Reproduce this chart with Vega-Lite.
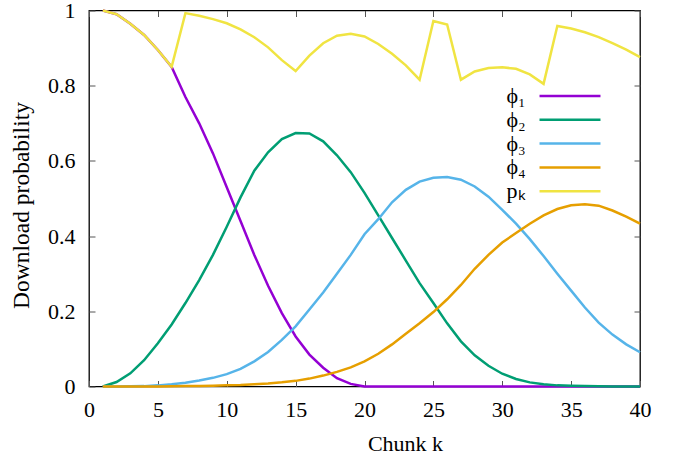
{
  "$schema": "https://vega.github.io/schema/vega-lite/v6.json",
  "width": 551,
  "height": 376,
  "autosize": {"type": "none"},
  "padding": {"left": 89, "top": 10.5, "right": 39, "bottom": 72.5},
  "background": "white",
  "config": {
    "view": {"stroke": "black", "strokeWidth": 1.3},
    "font": "Liberation Serif",
    "axis": {
      "domain": false,
      "grid": false,
      "labelFlush": false,
      "tickColor": "#555555",
      "tickSize": -6,
      "tickWidth": 1,
      "labelFont": "Liberation Serif",
      "labelFontSize": 22,
      "labelColor": "black",
      "titleFont": "Liberation Serif",
      "titleFontSize": 22,
      "titleFontWeight": "normal",
      "titleColor": "black"
    }
  },
  "data": {
    "values": [
      {"k": 1, "ϕ₁": 1.0, "ϕ₂": 0.0, "ϕ₃": 0.0, "ϕ₄": 0.0, "pₖ": 1.0},
      {"k": 2, "ϕ₁": 0.99, "ϕ₂": 0.012, "ϕ₃": 0.0, "ϕ₄": 0.0, "pₖ": 0.99},
      {"k": 3, "ϕ₁": 0.965, "ϕ₂": 0.035, "ϕ₃": 0.0005, "ϕ₄": 0.0, "pₖ": 0.965},
      {"k": 4, "ϕ₁": 0.935, "ϕ₂": 0.07, "ϕ₃": 0.001, "ϕ₄": 0.0, "pₖ": 0.935},
      {"k": 5, "ϕ₁": 0.895, "ϕ₂": 0.115, "ϕ₃": 0.003, "ϕ₄": 0.0, "pₖ": 0.895},
      {"k": 6, "ϕ₁": 0.85, "ϕ₂": 0.165, "ϕ₃": 0.006, "ϕ₄": 0.0005, "pₖ": 0.85},
      {"k": 7, "ϕ₁": 0.77, "ϕ₂": 0.222, "ϕ₃": 0.01, "ϕ₄": 0.001, "pₖ": 0.993},
      {"k": 8, "ϕ₁": 0.70, "ϕ₂": 0.283, "ϕ₃": 0.016, "ϕ₄": 0.001, "pₖ": 0.986},
      {"k": 9, "ϕ₁": 0.62, "ϕ₂": 0.35, "ϕ₃": 0.023, "ϕ₄": 0.002, "pₖ": 0.977},
      {"k": 10, "ϕ₁": 0.53, "ϕ₂": 0.425, "ϕ₃": 0.033, "ϕ₄": 0.003, "pₖ": 0.966},
      {"k": 11, "ϕ₁": 0.44, "ϕ₂": 0.503, "ϕ₃": 0.047, "ϕ₄": 0.004, "pₖ": 0.95},
      {"k": 12, "ϕ₁": 0.35, "ϕ₂": 0.574, "ϕ₃": 0.067, "ϕ₄": 0.006, "pₖ": 0.929},
      {"k": 13, "ϕ₁": 0.268, "ϕ₂": 0.623, "ϕ₃": 0.092, "ϕ₄": 0.008, "pₖ": 0.902},
      {"k": 14, "ϕ₁": 0.195, "ϕ₂": 0.658, "ϕ₃": 0.124, "ϕ₄": 0.011, "pₖ": 0.868},
      {"k": 15, "ϕ₁": 0.133, "ϕ₂": 0.674, "ϕ₃": 0.16, "ϕ₄": 0.015, "pₖ": 0.839},
      {"k": 16, "ϕ₁": 0.085, "ϕ₂": 0.673, "ϕ₃": 0.205, "ϕ₄": 0.021, "pₖ": 0.88},
      {"k": 17, "ϕ₁": 0.05, "ϕ₂": 0.652, "ϕ₃": 0.25, "ϕ₄": 0.029, "pₖ": 0.913},
      {"k": 18, "ϕ₁": 0.022, "ϕ₂": 0.615, "ϕ₃": 0.30, "ϕ₄": 0.039, "pₖ": 0.933},
      {"k": 19, "ϕ₁": 0.007, "ϕ₂": 0.57, "ϕ₃": 0.35, "ϕ₄": 0.051, "pₖ": 0.938},
      {"k": 20, "ϕ₁": 0.0, "ϕ₂": 0.515, "ϕ₃": 0.405, "ϕ₄": 0.067, "pₖ": 0.931},
      {"k": 21, "ϕ₁": 0.0, "ϕ₂": 0.455, "ϕ₃": 0.445, "ϕ₄": 0.087, "pₖ": 0.911},
      {"k": 22, "ϕ₁": 0.0, "ϕ₂": 0.395, "ϕ₃": 0.49, "ϕ₄": 0.112, "pₖ": 0.885},
      {"k": 23, "ϕ₁": 0.0, "ϕ₂": 0.335, "ϕ₃": 0.523, "ϕ₄": 0.14, "pₖ": 0.854},
      {"k": 24, "ϕ₁": 0.0, "ϕ₂": 0.275, "ϕ₃": 0.545, "ϕ₄": 0.168, "pₖ": 0.816},
      {"k": 25, "ϕ₁": 0.0, "ϕ₂": 0.222, "ϕ₃": 0.555, "ϕ₄": 0.198, "pₖ": 0.972},
      {"k": 26, "ϕ₁": 0.0, "ϕ₂": 0.168, "ϕ₃": 0.557, "ϕ₄": 0.232, "pₖ": 0.963},
      {"k": 27, "ϕ₁": 0.0, "ϕ₂": 0.12, "ϕ₃": 0.55, "ϕ₄": 0.27, "pₖ": 0.816},
      {"k": 28, "ϕ₁": 0.0, "ϕ₂": 0.083, "ϕ₃": 0.532, "ϕ₄": 0.313, "pₖ": 0.838},
      {"k": 29, "ϕ₁": 0.0, "ϕ₂": 0.055, "ϕ₃": 0.505, "ϕ₄": 0.35, "pₖ": 0.847},
      {"k": 30, "ϕ₁": 0.0, "ϕ₂": 0.034, "ϕ₃": 0.47, "ϕ₄": 0.383, "pₖ": 0.849},
      {"k": 31, "ϕ₁": 0.0, "ϕ₂": 0.02, "ϕ₃": 0.433, "ϕ₄": 0.408, "pₖ": 0.845},
      {"k": 32, "ϕ₁": 0.0, "ϕ₂": 0.011, "ϕ₃": 0.392, "ϕ₄": 0.433, "pₖ": 0.83},
      {"k": 33, "ϕ₁": 0.0, "ϕ₂": 0.006, "ϕ₃": 0.347, "ϕ₄": 0.455, "pₖ": 0.805},
      {"k": 34, "ϕ₁": 0.0, "ϕ₂": 0.003, "ϕ₃": 0.30, "ϕ₄": 0.472, "pₖ": 0.959},
      {"k": 35, "ϕ₁": 0.0, "ϕ₂": 0.002, "ϕ₃": 0.255, "ϕ₄": 0.482, "pₖ": 0.952},
      {"k": 36, "ϕ₁": 0.0, "ϕ₂": 0.001, "ϕ₃": 0.21, "ϕ₄": 0.485, "pₖ": 0.942},
      {"k": 37, "ϕ₁": 0.0, "ϕ₂": 0.0005, "ϕ₃": 0.17, "ϕ₄": 0.481, "pₖ": 0.929},
      {"k": 38, "ϕ₁": 0.0, "ϕ₂": 0.0, "ϕ₃": 0.138, "ϕ₄": 0.468, "pₖ": 0.913},
      {"k": 39, "ϕ₁": 0.0, "ϕ₂": 0.0, "ϕ₃": 0.112, "ϕ₄": 0.452, "pₖ": 0.896},
      {"k": 40, "ϕ₁": 0.0, "ϕ₂": 0.0, "ϕ₃": 0.091, "ϕ₄": 0.433, "pₖ": 0.876}
    ]
  },
  "transform": [
    {"fold": ["ϕ₁", "ϕ₂", "ϕ₃", "ϕ₄", "pₖ"], "as": ["series", "value"]}
  ],
  "layer": [
    {
      "mark": {"type": "line", "strokeWidth": 2.5},
      "encoding": {
        "x": {
          "field": "k", "type": "quantitative",
          "scale": {"domain": [0, 40], "nice": false},
          "axis": {"values": [0, 5, 10, 15, 20, 25, 30, 35, 40], "title": "Chunk k", "labelPadding": 19, "titlePadding": 13, "titleX": 316, "orient": "bottom"}
        },
        "y": {
          "field": "value", "type": "quantitative",
          "scale": {"domain": [0, 1], "nice": false},
          "axis": {"values": [0, 0.2, 0.4, 0.6, 0.8, 1], "format": "~g", "title": "Download probability", "titleFontSize": 23.5, "labelPadding": 20, "titlePadding": 14, "titleY": 194.5, "orient": "left"}
        },
        "color": {
          "field": "series", "type": "nominal",
          "scale": {"domain": ["ϕ₁", "ϕ₂", "ϕ₃", "ϕ₄", "pₖ"], "range": ["#9400D3", "#009E73", "#56B4E9", "#E69F00", "#F0E442"]},
          "legend": {
            "title": null,
            "orient": "none",
            "legendX": 469.5,
            "legendY": 74,
            "symbolType": "M-3,0H3",
            "symbolSize": 413,
            "symbolStrokeWidth": 2.5,
            "labelFont": "Liberation Serif",
            "labelFontSize": 22,
            "labelColor": "black",
            "labelOffset": -75,
            "labelAlign": "left",
            "rowPadding": 0.8
          }
        }
      }
    },
    {
      "mark": {"type": "line", "opacity": 0},
      "encoding": {
        "x": {"field": "k", "type": "quantitative", "scale": {"domain": [0, 40], "nice": false}, "axis": {"values": [0, 5, 10, 15, 20, 25, 30, 35, 40], "labels": false, "title": null, "orient": "top"}},
        "y": {"field": "value", "type": "quantitative", "scale": {"domain": [0, 1], "nice": false}, "axis": {"values": [0, 0.2, 0.4, 0.6, 0.8, 1], "labels": false, "title": null, "orient": "right"}}
      }
    }
  ],
  "resolve": {"axis": {"x": "independent", "y": "independent"}}
}
